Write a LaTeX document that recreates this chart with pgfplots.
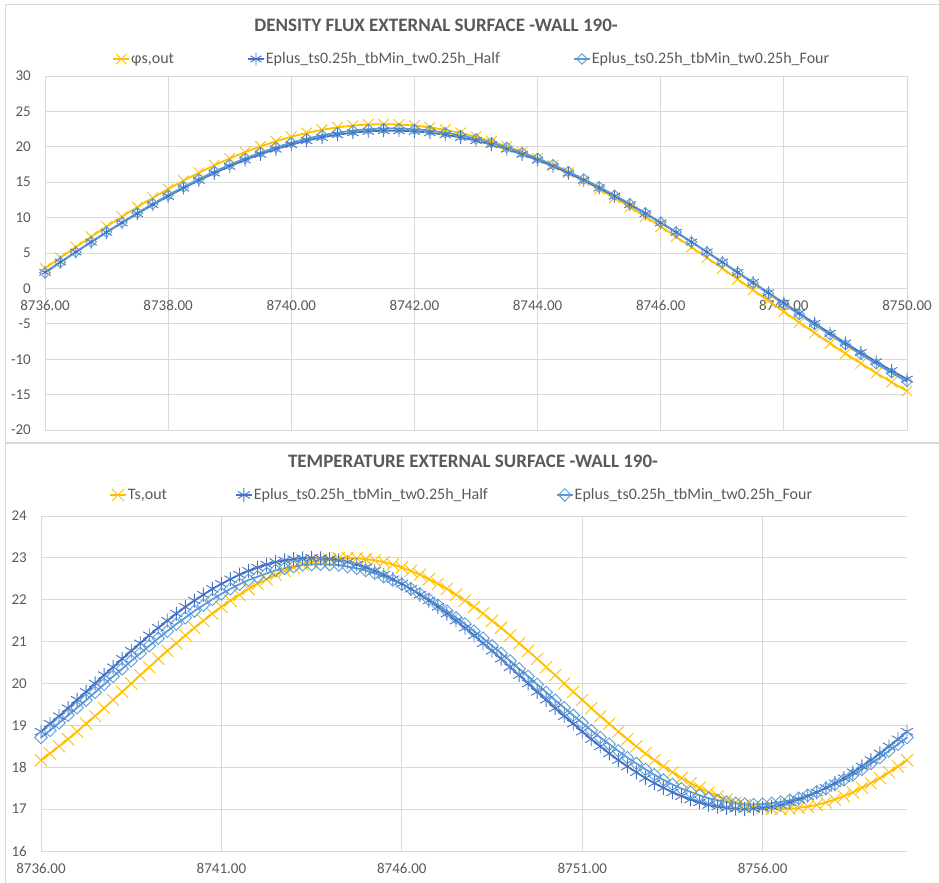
\documentclass[border=0pt]{standalone}
\usepackage{fontspec}
\setmainfont{Carlito}
\usepackage{pgfplots}
\pgfplotsset{compat=1.18}
\usepackage{pgfplotstable}
\definecolor{cyel}{HTML}{FFC000}
\definecolor{cdb}{HTML}{4472C4}
\definecolor{clb}{HTML}{5B9BD5}
\definecolor{cgrid}{HTML}{D9D9D9}
\definecolor{ctxt}{HTML}{595959}
\newcommand{\tickfont}{\fontsize{15bp}{18bp}\selectfont}
\newcommand{\legfont}{\fontsize{16bp}{19bp}\selectfont}
\newcommand{\titfont}{\fontsize{19bp}{22bp}\selectfont\bfseries}

\pgfplotstableread{
t y h f
8736.00 2.83 2.27 2.21
8736.25 4.34 3.71 3.68
8736.50 5.83 5.14 5.13
8736.75 7.30 6.54 6.56
8737.00 8.74 7.92 7.96
8737.25 10.13 9.26 9.32
8737.50 11.49 10.56 10.65
8737.75 12.79 11.82 11.93
8738.00 14.03 13.02 13.16
8738.25 15.22 14.18 14.33
8738.50 16.34 15.27 15.44
8738.75 17.39 16.29 16.49
8739.00 18.36 17.25 17.46
8739.25 19.25 18.14 18.36
8739.50 20.06 18.94 19.18
8739.75 20.78 19.67 19.92
8740.00 21.42 20.31 20.57
8740.25 21.96 20.87 21.14
8740.50 22.40 21.33 21.62
8740.75 22.75 21.71 22.00
8741.00 23.00 21.99 22.29
8741.25 23.15 22.18 22.48
8741.50 23.20 22.28 22.58
8741.75 23.15 22.28 22.58
8742.00 23.00 22.18 22.48
8742.25 22.75 21.99 22.29
8742.50 22.40 21.71 22.00
8742.75 21.96 21.33 21.62
8743.00 21.42 20.87 21.14
8743.25 20.78 20.31 20.57
8743.50 20.06 19.67 19.92
8743.75 19.25 18.94 19.18
8744.00 18.36 18.14 18.36
8744.25 17.39 17.25 17.46
8744.50 16.34 16.29 16.49
8744.75 15.22 15.27 15.44
8745.00 14.03 14.18 14.33
8745.25 12.79 13.02 13.16
8745.50 11.49 11.82 11.93
8745.75 10.13 10.56 10.65
8746.00 8.74 9.26 9.32
8746.25 7.30 7.92 7.96
8746.50 5.83 6.54 6.56
8746.75 4.34 5.14 5.13
8747.00 2.83 3.71 3.68
8747.25 1.30 2.27 2.21
8747.50 -0.23 0.83 0.74
8747.75 -1.76 -0.63 -0.74
8748.00 -3.29 -2.07 -2.21
8748.25 -4.80 -3.51 -3.68
8748.50 -6.29 -4.94 -5.13
8748.75 -7.76 -6.34 -6.56
8749.00 -9.20 -7.72 -7.96
8749.25 -10.59 -9.06 -9.32
8749.50 -11.95 -10.36 -10.65
8749.75 -13.25 -11.62 -11.93
8750.00 -14.49 -12.82 -13.16
}\fluxtab

\pgfplotstableread{
t y h f
8736.00 18.17 18.85 18.71
8736.25 18.33 19.04 18.88
8736.50 18.50 19.22 19.06
8736.75 18.67 19.41 19.24
8737.00 18.85 19.61 19.42
8737.25 19.04 19.80 19.60
8737.50 19.22 20.00 19.79
8737.75 19.41 20.20 19.98
8738.00 19.61 20.39 20.17
8738.25 19.80 20.59 20.35
8738.50 20.00 20.78 20.54
8738.75 20.20 20.96 20.72
8739.00 20.39 21.15 20.90
8739.25 20.59 21.33 21.08
8739.50 20.78 21.50 21.25
8739.75 20.96 21.67 21.42
8740.00 21.15 21.83 21.57
8740.25 21.33 21.98 21.73
8740.50 21.50 22.12 21.87
8740.75 21.67 22.26 22.01
8741.00 21.83 22.38 22.14
8741.25 21.98 22.49 22.26
8741.50 22.12 22.60 22.37
8741.75 22.26 22.69 22.47
8742.00 22.38 22.77 22.55
8742.25 22.49 22.84 22.63
8742.50 22.60 22.90 22.70
8742.75 22.69 22.94 22.75
8743.00 22.77 22.97 22.79
8743.25 22.84 22.99 22.83
8743.50 22.90 23.00 22.84
8743.75 22.94 22.99 22.85
8744.00 22.97 22.97 22.84
8744.25 22.99 22.94 22.83
8744.50 23.00 22.90 22.79
8744.75 22.99 22.84 22.75
8745.00 22.97 22.77 22.70
8745.25 22.94 22.69 22.63
8745.50 22.90 22.60 22.55
8745.75 22.84 22.49 22.47
8746.00 22.77 22.38 22.37
8746.25 22.69 22.26 22.26
8746.50 22.60 22.12 22.14
8746.75 22.49 21.98 22.01
8747.00 22.38 21.83 21.87
8747.25 22.26 21.67 21.73
8747.50 22.12 21.50 21.57
8747.75 21.98 21.33 21.42
8748.00 21.83 21.15 21.25
8748.25 21.67 20.96 21.08
8748.50 21.50 20.78 20.90
8748.75 21.33 20.59 20.72
8749.00 21.15 20.39 20.54
8749.25 20.96 20.20 20.35
8749.50 20.78 20.00 20.17
8749.75 20.59 19.80 19.98
8750.00 20.39 19.61 19.79
8750.25 20.20 19.41 19.60
8750.50 20.00 19.22 19.42
8750.75 19.80 19.04 19.24
8751.00 19.61 18.85 19.06
8751.25 19.41 18.67 18.88
8751.50 19.22 18.50 18.71
8751.75 19.04 18.33 18.55
8752.00 18.85 18.17 18.39
8752.25 18.67 18.02 18.23
8752.50 18.50 17.88 18.09
8752.75 18.33 17.74 17.95
8753.00 18.17 17.62 17.82
8753.25 18.02 17.51 17.70
8753.50 17.88 17.40 17.59
8753.75 17.74 17.31 17.49
8754.00 17.62 17.23 17.41
8754.25 17.51 17.16 17.33
8754.50 17.40 17.10 17.26
8754.75 17.31 17.06 17.21
8755.00 17.23 17.03 17.17
8755.25 17.16 17.01 17.14
8755.50 17.10 17.00 17.12
8755.75 17.06 17.01 17.11
8756.00 17.03 17.03 17.12
8756.25 17.01 17.06 17.14
8756.50 17.00 17.10 17.17
8756.75 17.01 17.16 17.21
8757.00 17.03 17.23 17.26
8757.25 17.06 17.31 17.33
8757.50 17.10 17.40 17.41
8757.75 17.16 17.51 17.49
8758.00 17.23 17.62 17.59
8758.25 17.31 17.74 17.70
8758.50 17.40 17.88 17.82
8758.75 17.51 18.02 17.95
8759.00 17.62 18.17 18.09
8759.25 17.74 18.33 18.23
8759.50 17.88 18.50 18.39
8759.75 18.02 18.67 18.55
8760.00 18.17 18.85 18.71
}\temptab

\pgfplotsset{
  excelstyle/.style={
    scale only axis, clip=false,
    grid=major, major grid style={cgrid, line width=0.9bp},
    axis line style={draw=none}, tick style={draw=none}, major tick length=0pt,
    yticklabel style={anchor=east, inner sep=0pt, xshift=-14bp, font=\tickfont, text=ctxt},
    legend columns=3,
    legend cell align=left,
    legend image code/.code={\draw[mark repeat=2,mark phase=2,#1] plot coordinates {(0bp,0bp) (8bp,0bp) (16bp,0bp)};},
  },
}

\begin{document}
\begin{tikzpicture}
\path[use as bounding box] (0,0) rectangle (939bp,883bp);

% chart frames
\draw[cgrid, line width=1bp] (5bp,0bp) -- (5bp,878bp) -- (939bp,878bp);
\draw[cgrid, line width=1.6bp] (5bp,440bp) -- (939bp,440bp);

\node[font=\titfont, text=ctxt, anchor=base] at (436bp,851.3bp) {DENSITY FLUX EXTERNAL SURFACE -WALL 190-};
\node[font=\titfont, text=ctxt, anchor=base] at (473bp,415bp) {TEMPERATURE EXTERNAL SURFACE -WALL 190-};

\begin{axis}[excelstyle,
  at={(45bp,453bp)}, anchor=south west,
  width=862bp, height=354bp,
  xmin=8736, xmax=8750, ymin=-20, ymax=30,
  xtick={8736,8738,8740,8742,8744,8746,8748,8750},
  xticklabels={8736.00,8738.00,8740.00,8742.00,8744.00,8746.00,8748.00,8750.00},
  ytick={-20,-15,-10,-5,0,5,10,15,20,25,30},
  yticklabels={-20,-15,-10,-5,0,5,10,15,20,25,30},
  xticklabel style={anchor=north, inner sep=0pt, yshift=130.4bp, font=\tickfont, text=ctxt},
  legend style={at={(0.078,1.048)}, anchor=west, draw=none, fill=none, inner sep=0pt,
    font=\legfont, text=ctxt, nodes={inner sep=1bp},
    /tikz/every even column/.append style={column sep=72bp}},
]
\addplot[cyel, line width=1.8bp, mark=x, mark size=7.5bp, mark options={solid, line width=0.9bp}] table[x=t, y=y] {\fluxtab};
\addlegendentry{φs,out}
\addplot[cdb, line width=1.8bp, mark=asterisk, mark size=6.5bp, mark options={solid, line width=0.9bp}] table[x=t, y=h] {\fluxtab};
\addlegendentry{Eplus\_ts0.25h\_tbMin\_tw0.25h\_Half}
\addplot[clb, line width=1.8bp, mark=square, mark size=3.7bp, mark options={solid, rotate=45, line width=0.9bp, fill=none}] table[x=t, y=f] {\fluxtab};
\addlegendentry{Eplus\_ts0.25h\_tbMin\_tw0.25h\_Four}
\end{axis}

\begin{axis}[excelstyle,
  at={(41bp,32bp)}, anchor=south west,
  width=866bp, height=335bp,
  xmin=8736, xmax=8760, ymin=16, ymax=24,
  xtick={8736,8741,8746,8751,8756},
  xticklabels={8736.00,8741.00,8746.00,8751.00,8756.00},
  ytick={16,17,18,19,20,21,22,23,24},
  yticklabels={16,17,18,19,20,21,22,23,24},
  xticklabel style={anchor=north, inner sep=0pt, yshift=-12.5bp, font=\tickfont, text=ctxt},
  legend style={at={(0.0785,1.0627)}, anchor=west, draw=none, fill=none, inner sep=0pt,
    font=\legfont, text=ctxt, nodes={inner sep=1bp},
    /tikz/every even column/.append style={column sep=67bp}},
]
\addplot[cyel, line width=1.8bp, mark=x, mark size=8.5bp, mark options={solid, line width=0.9bp}] table[x=t, y=y] {\temptab};
\addlegendentry{Ts,out}
\addplot[cdb, line width=1.8bp, mark=asterisk, mark size=7bp, mark options={solid, line width=0.9bp}] table[x=t, y=h] {\temptab};
\addlegendentry{Eplus\_ts0.25h\_tbMin\_tw0.25h\_Half}
\addplot[clb, line width=1.8bp, mark=square, mark size=4.4bp, mark options={solid, rotate=45, line width=0.9bp, fill=none}] table[x=t, y=f] {\temptab};
\addlegendentry{Eplus\_ts0.25h\_tbMin\_tw0.25h\_Four}
\end{axis}
\end{tikzpicture}
\end{document}
